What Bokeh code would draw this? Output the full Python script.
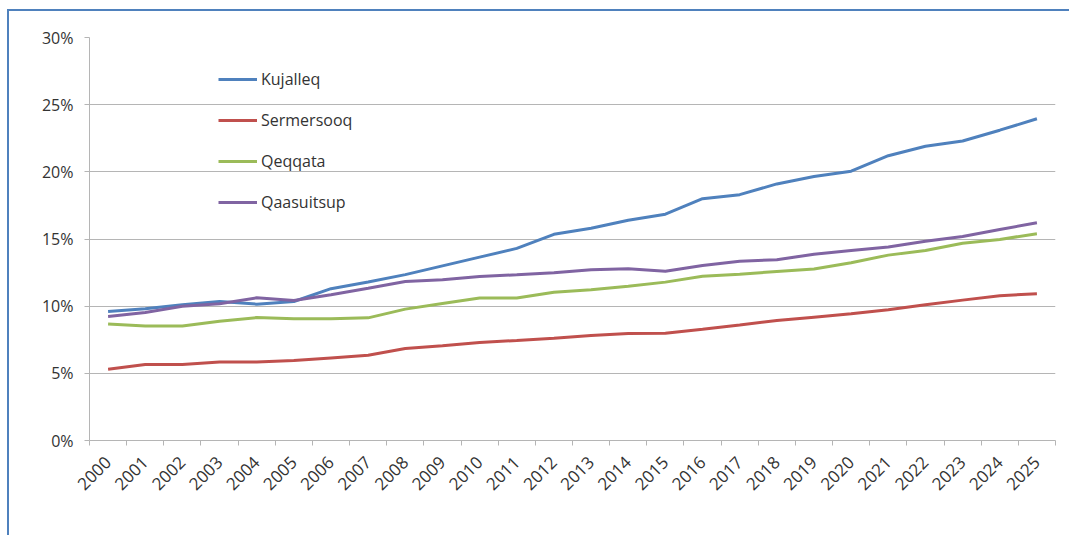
import math
from bokeh.plotting import figure
from bokeh.models import Range1d, FixedTicker, PrintfTickFormatter, Legend, LegendItem
from bokeh.embed import file_html
from bokeh.resources import INLINE

years = list(range(2000, 2026))
kujalleq = [9.6, 9.8, 10.1, 10.35, 10.15, 10.35, 11.3, 11.8, 12.35, 13.0, 13.65, 14.3, 15.35,
            15.8, 16.4, 16.85, 18.0, 18.3, 19.1, 19.65, 20.05, 21.2, 21.9, 22.3, 23.1, 23.95]
sermersooq = [5.3, 5.65, 5.65, 5.85, 5.85, 5.95, 6.15, 6.35, 6.85, 7.05, 7.3, 7.45, 7.62,
              7.82, 7.97, 7.99, 8.28, 8.6, 8.93, 9.18, 9.43, 9.73, 10.1, 10.45, 10.78, 10.92]
qeqqata = [8.68, 8.52, 8.52, 8.88, 9.15, 9.06, 9.06, 9.13, 9.78, 10.2, 10.6, 10.6, 11.03,
           11.22, 11.49, 11.79, 12.23, 12.38, 12.58, 12.76, 13.23, 13.8, 14.15, 14.69, 14.97, 15.39]
qaasuitsup = [9.23, 9.53, 10.0, 10.18, 10.62, 10.42, 10.85, 11.34, 11.84, 11.96, 12.21, 12.34, 12.49,
              12.71, 12.78, 12.6, 13.03, 13.35, 13.45, 13.87, 14.15, 14.4, 14.84, 15.19, 15.71, 16.21]
series_names = ["Kujalleq", "Sermersooq", "Qeqqata", "Qaasuitsup"]
series_values = [kujalleq, sermersooq, qeqqata, qaasuitsup]
colors = ["#4F81BD", "#C0504D", "#9BBB59", "#8064A2"]
y_ticks = [0, 5, 10, 15, 20, 25, 30]

FONT = "Open Sans"
TEXT = "#333333"
GRID = "#B5B5B5"

p = figure(width=1062, height=526, output_backend="svg", toolbar_location=None,
           x_range=Range1d(years[0] - 0.5, years[-1] + 0.5), y_range=Range1d(0, 30),
           min_border_left=80, min_border_top=26, min_border_bottom=97, min_border_right=16)
p.styles = {"margin-left": "7px", "margin-top": "9px",
            "border-left": "2px solid #4F81BD", "border-top": "2px solid #4F81BD"}
p.outline_line_color = None
p.background_fill_color = "white"
p.border_fill_color = "white"

renderers = []
for name, vals, col in zip(series_names, series_values, colors):
    r = p.line(years, vals, line_color=col, line_width=3)
    renderers.append((name, r))

legend = Legend(items=[LegendItem(label=n, renderers=[r]) for n, r in renderers],
                location=(129, 227), padding=0, margin=0, spacing=19,
                glyph_width=39, glyph_height=20, label_height=20, label_standoff=4,
                border_line_color=None, background_fill_alpha=0,
                label_text_font=FONT, label_text_font_size="16px", label_text_color=TEXT)
p.add_layout(legend, "center")

# x axis
xa = p.xaxis[0]
xa.ticker = FixedTicker(ticks=years, minor_ticks=[y - 0.5 for y in years] + [years[-1] + 0.5])
xa.major_tick_out = 0
xa.major_tick_in = 0
xa.minor_tick_out = 5
xa.minor_tick_in = 0
xa.minor_tick_line_color = GRID
xa.axis_line_color = GRID
xa.major_label_orientation = math.pi / 4
xa.major_label_standoff = 14
xa.major_label_text_font = FONT
xa.major_label_text_font_size = "17px"
xa.major_label_text_color = TEXT

# y axis
ya = p.yaxis[0]
ya.ticker = FixedTicker(ticks=y_ticks)
ya.formatter = PrintfTickFormatter(format="%d%%")
ya.major_tick_out = 5
ya.major_tick_in = 0
ya.minor_tick_line_color = None
ya.major_tick_line_color = GRID
ya.axis_line_color = GRID
ya.major_label_standoff = 11
ya.major_label_text_font = FONT
ya.major_label_text_font_size = "16px"
ya.major_label_text_color = TEXT

p.xgrid.grid_line_color = None
p.ygrid.grid_line_color = GRID
p.ygrid.grid_line_width = 1

open("out.html", "w").write(file_html(p, INLINE))
